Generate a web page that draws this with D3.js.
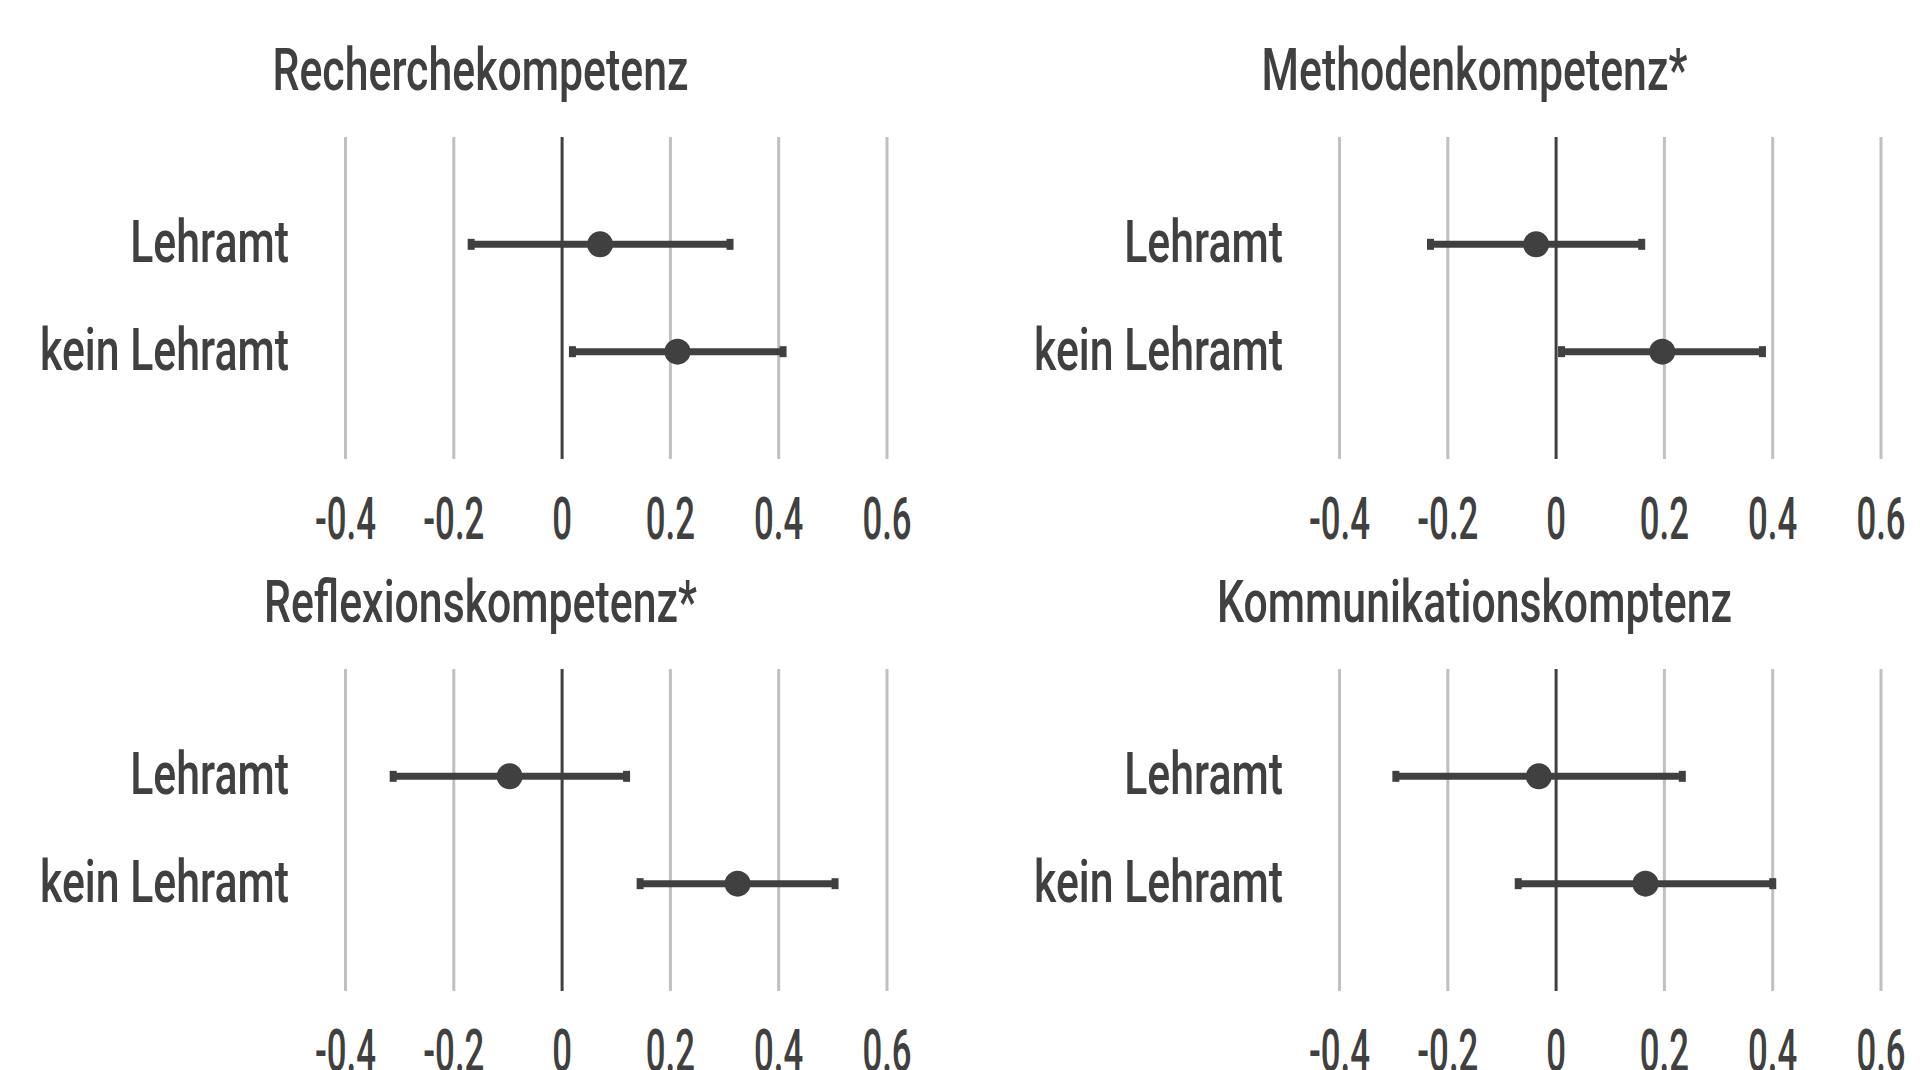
<!DOCTYPE html>
<html>
<head>
<meta charset="utf-8">
<script src="https://cdn.jsdelivr.net/npm/d3@7"></script>
<style>
  html, body { margin: 0; padding: 0; background: #ffffff; }
  svg { display: block; }
  text { font-family: Roboto, "Noto Sans", sans-serif; font-weight: 500; fill: #404040; }
</style>
</head>
<body>
<svg id="chart" width="1932" height="1070"></svg>
<script>
// ---- data ----
const panelTitles = ["Recherchekompetenz", "Methodenkompetenz*", "Reflexionskompetenz*", "Kommunikationskomptenz"];
const groups = ["Lehramt", "kein Lehramt"];
const meanLehramt = [0.071, -0.036, -0.096, -0.031];
const lowLehramt  = [-0.167, -0.231, -0.311, -0.295];
const highLehramt = [0.311, 0.159, 0.120, 0.234];
const meanKein    = [0.214, 0.197, 0.325, 0.166];
const lowKein     = [0.020, 0.011, 0.145, -0.069];
const highKein    = [0.409, 0.382, 0.505, 0.401];
const xTicks      = [-0.4, -0.2, 0, 0.2, 0.4, 0.6];
const xTickLabels = ["-0.4", "-0.2", "0", "0.2", "0.4", "0.6"];

// ---- layout ----
const svg = d3.select("#chart");
const ink = "#404040";
const gridColor = "#c0c0c0";
const fontSize = 60;
const colOffset = [0, 994];
const rowOffset = [0, 532];
const plotLeft = 345, plotRight = 886.5;
const gridTop = 137, gridBottom = 459;
const titleCenter = 480.5, titleBaseline = 90;
const labelRight = 289;
const tickBaseline = 539;

// condensing factors measured from the installed font
function measure(str) {
  const t = svg.append("text").attr("font-size", fontSize).text(str);
  const w = t.node().getComputedTextLength();
  t.remove();
  return w;
}
const sx = 249 / measure("kein Lehramt");
const sxTick = 61 / measure("-0.4");

const x = d3.scaleLinear().domain([-0.4, 0.6]).range([plotLeft, plotRight]);
const y = d3.scalePoint().domain(groups).range([gridTop, gridBottom]).padding(1);

panelTitles.forEach((title, i) => {
  const col = i % 2, row = Math.floor(i / 2);
  const g = svg.append("g").attr("transform", `translate(${colOffset[col]},${rowOffset[row]})`);

  // title
  g.append("text")
    .attr("transform", `translate(${titleCenter},${titleBaseline}) scale(${sx},1)`)
    .attr("text-anchor", "middle")
    .attr("font-size", fontSize)
    .text(title);

  // gridlines + tick labels through axis
  const axis = d3.axisBottom(x)
    .tickValues(xTicks)
    .tickSize(-(gridBottom - gridTop))
    .tickFormat((d, k) => xTickLabels[k]);
  const ax = g.append("g").attr("transform", `translate(0,${gridBottom})`).call(axis);
  ax.select(".domain").remove();
  ax.selectAll(".tick line")
    .attr("stroke", d => d === 0 ? ink : gridColor)
    .attr("stroke-width", 3);
  ax.selectAll(".tick text")
    .attr("y", null).attr("dy", null)
    .attr("transform", `translate(0,${tickBaseline - gridBottom}) scale(${sxTick},1)`)
    .attr("font-size", fontSize)
    .attr("font-family", "Roboto, 'Noto Sans', sans-serif")
    .attr("font-weight", 500)
    .attr("fill", ink);
  ax.selectAll(".tick").filter(d => d === 0).raise();

  // category labels
  g.selectAll(".cat").data(groups).enter().append("text")
    .attr("class", "cat")
    .attr("transform", d => `translate(${labelRight},${y(d) + 18}) scale(${sx},1)`)
    .attr("text-anchor", "end")
    .attr("font-size", fontSize)
    .text(d => d);

  const data = [
    { g: groups[0], m: meanLehramt[i], lo: lowLehramt[i], hi: highLehramt[i] },
    { g: groups[1], m: meanKein[i], lo: lowKein[i], hi: highKein[i] }
  ];

  // error bars
  g.selectAll(".bar").data(data).enter().append("line")
    .attr("x1", d => x(d.lo)).attr("x2", d => x(d.hi))
    .attr("y1", d => y(d.g)).attr("y2", d => y(d.g))
    .attr("stroke", ink).attr("stroke-width", 7);
  // caps
  data.forEach(d => {
    [d.lo, d.hi].forEach(v => {
      g.append("line")
        .attr("x1", x(v)).attr("x2", x(v))
        .attr("y1", y(d.g) - 5.5).attr("y2", y(d.g) + 5.5)
        .attr("stroke", ink).attr("stroke-width", 7);
    });
  });
  // points
  g.selectAll(".pt").data(data).enter().append("circle")
    .attr("cx", d => x(d.m)).attr("cy", d => y(d.g))
    .attr("r", 13).attr("fill", ink);
});
</script>
</body>
</html>
